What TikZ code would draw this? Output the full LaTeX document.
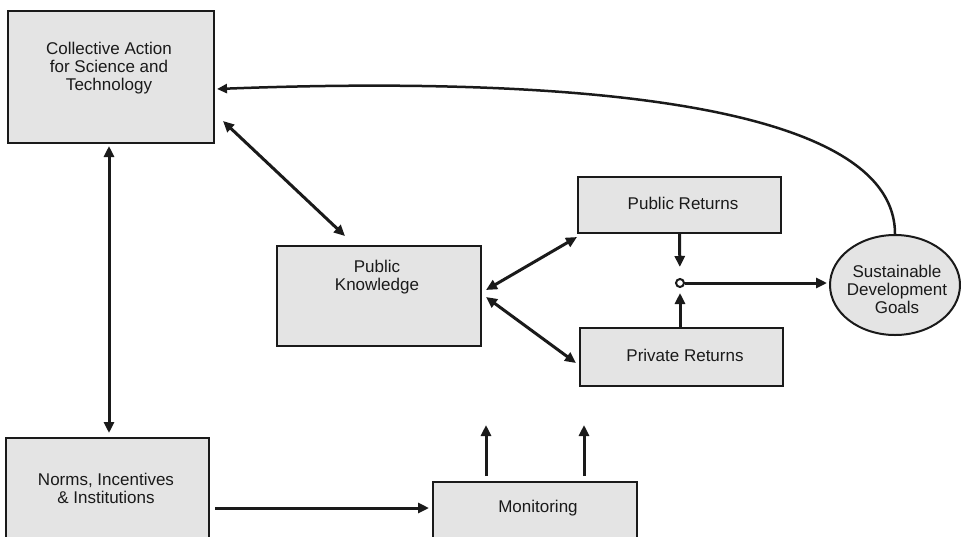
\documentclass[tikz,border=0pt]{standalone}
\usepackage{fontspec}
\setmainfont{Liberation Sans}
\usetikzlibrary{arrows.meta,shapes.geometric,calc}
\definecolor{boxfill}{HTML}{E4E4E4}
\definecolor{ink}{HTML}{1A1A1A}
\begin{document}
\begin{tikzpicture}[x=1pt,y=-1pt,
  box/.style={draw=ink,line width=2pt,fill=boxfill,rectangle,inner sep=0pt},
  txt/.style={align=center,text=ink,font=\fontsize{17}{18}\selectfont,inner sep=0pt},
  conn/.style={draw=ink,line width=3pt,-{Triangle[length=11pt,width=10pt]}},
  dconn/.style={draw=ink,line width=3pt,{Triangle[length=11pt,width=10pt]}-{Triangle[length=11pt,width=10pt]}}]
\useasboundingbox (0,0) rectangle (961,536);
\clip (0,0) rectangle (961,536);
\fill[white] (0,0) rectangle (961,536);
% boxes
\node[box,minimum width=206,minimum height=132] (ca) at (111,77) {};
\node[txt] (cat) at (109,68) {Collective Action\\for Science and\\Technology};
\node[box,minimum width=203,minimum height=124] (nii) at (107.5,500) {};
\node[txt] (niit) at (106,488.5) {Norms, Incentives\\\& Institutions};
\node[box,minimum width=204,minimum height=80] (mon) at (535,522) {};
\node[txt] (mont) at (538,508) {Monitoring};
\node[box,minimum width=204,minimum height=100] (pk) at (379,296) {};
\node[txt] (pkt) at (377,277.5) {Public\\Knowledge};
\node[box,minimum width=203,minimum height=56] (pub) at (679.5,205) {};
\node[txt] (pubt) at (683,203) {Public Returns};
\node[box,minimum width=203,minimum height=58] (prv) at (681.5,357) {};
\node[txt] (prvt) at (685,355) {Private Returns};
\node[draw=ink,line width=2pt,fill=boxfill,ellipse,minimum width=130,minimum height=100,inner sep=0pt] (sdg) at (895,285) {};
\node[txt] (sdgt) at (897,289.5) {Sustainable\\Development\\Goals};
\node[draw=ink,line width=2pt,fill=white,circle,minimum size=8,inner sep=0pt] (jn) at (680,283) {};
\coordinate (m1) at (486,425);
\coordinate (m2) at (584,425);
% connectors
\draw[draw=ink,line width=2.5pt,-{Triangle[length=10pt,width=9pt]}] (sdg.north) .. controls (895,80) and (450,80) .. ([shift={(2,12)}]ca.east);
\draw[dconn] ([shift={(8,-23)}]ca.south east) -- ([shift={(-34,-9)}]pk.north);
\draw[dconn] ([shift={(-2,2)}]ca.south) -- ([shift={(1.5,-4)}]nii.north);
\draw[conn] ([shift={(5,8)}]nii.east) -- ([shift={(-3,-14)}]mon.west);
\draw[dconn] ([shift={(4,-6)}]pk.east) -- ([shift={(0,3)}]pub.south west);
\draw[dconn] ([shift={(4,1)}]pk.east) -- ([shift={(-3,6)}]prv.west);
\draw[conn,shorten >=11pt] (pub.south) -- (jn.north);
\draw[conn,shorten >=5pt] ([xshift=-1.5]prv.north) -- (jn.south);
\draw[conn] (jn.east) -- ([shift={(-2,-2)}]sdg.west);
\draw[conn] ([shift={(-49,-5)}]mon.north) -- (m1);
\draw[conn] ([shift={(49,-5)}]mon.north) -- (m2);
\end{tikzpicture}
\end{document}
